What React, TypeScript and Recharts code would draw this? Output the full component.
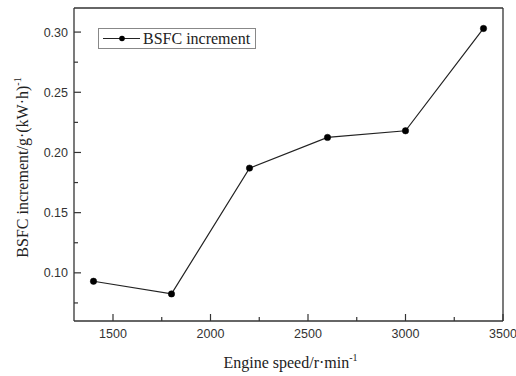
import { Legend, Line, LineChart, ReferenceLine, XAxis, YAxis } from "recharts";

// engine speed (r/min) and the BSFC increment
const speeds = [1400, 1800, 2200, 2600, 3000, 3400];
const bsfcIncrement = [0.093, 0.0825, 0.187, 0.2125, 0.218, 0.303];

const xMajor = [1500, 2000, 2500, 3000, 3500];
const xMinor = [1750, 2250, 2750, 3250];
const yMajor = [0.1, 0.15, 0.2, 0.25, 0.3];
const yMinor = [0.075, 0.125, 0.175, 0.225, 0.275];

const rows = speeds.map((s, i) => ({ speed: s, value: bsfcIncrement[i] }));

const AXIS = "#333";
const SERIF = '"Liberation Serif", "Times New Roman", serif';
const SANS = '"Liberation Sans", Arial, sans-serif';

const isMajor = (list: number[], v: number) => list.some((m) => Math.abs(m - v) < 1e-6);

function YTick(props: any) {
  const { x, y, payload } = props;
  const major = isMajor(yMajor, payload.value);
  return (
    <g>
      <line x1={x} x2={x + (major ? 7 : 4)} y1={y} y2={y} stroke={AXIS} strokeWidth={1.2} />
      {major && (
        <text x={x - 6} y={y + 4.5} textAnchor="end" fontSize={12.5} fontFamily={SANS} fill="#333">
          {payload.value.toFixed(2)}
        </text>
      )}
    </g>
  );
}

function XTick(props: any) {
  const { x, y, payload } = props;
  const major = isMajor(xMajor, payload.value);
  return (
    <g>
      <line x1={x} x2={x} y1={y} y2={y - (major ? 7 : 4)} stroke={AXIS} strokeWidth={1.2} />
      {major && (
        <text x={x} y={y + 17} textAnchor="middle" fontSize={12.5} fontFamily={SANS} fill="#333">
          {payload.value}
        </text>
      )}
    </g>
  );
}

function LegendBox() {
  return (
    <svg width={158} height={21} style={{ display: "block" }}>
      <rect x={0.5} y={0.5} width={157} height={20} fill="#fff" stroke="#888" />
      <line x1={5} x2={42} y1={10.5} y2={10.5} stroke="#222" strokeWidth={1.2} />
      <circle cx={24} cy={10.5} r={2.8} fill="#000" />
      <text x={45} y={16} fontSize={16} fontFamily={SERIF} fill="#222">
        BSFC increment
      </text>
    </svg>
  );
}

export default function App() {
  return (
    <div style={{ position: "absolute", left: 0, top: 0, width: 516, height: 376, background: "#fff" }}>
      <LineChart width={516} height={376} data={rows} margin={{ top: 8, right: 13, bottom: 0, left: 0 }}>
        <XAxis
          dataKey="speed"
          type="number"
          domain={[1300, 3500]}
          ticks={[...xMajor, ...xMinor]}
          interval={0}
          height={55}
          tickSize={0}
          tickMargin={0}
          tickLine={false}
          tick={<XTick />}
          axisLine={{ stroke: AXIS, strokeWidth: 1.3 }}
          label={{
            content: ({ viewBox }: any) => (
              <text
                x={viewBox.x + viewBox.width / 2 + 2}
                y={viewBox.y + 47}
                textAnchor="middle"
                fontSize={16}
                fontFamily={SERIF}
                fill="#222"
              >
                Engine speed/r·min
                <tspan dy={-7} fontSize={10}>-1</tspan>
              </text>
            ),
          }}
        />
        <YAxis
          type="number"
          domain={[0.06, 0.32]}
          ticks={[...yMajor, ...yMinor]}
          interval={0}
          width={74}
          tickSize={0}
          tickMargin={0}
          tickLine={false}
          tick={<YTick />}
          axisLine={{ stroke: AXIS, strokeWidth: 1.3 }}
          label={{
            content: ({ viewBox }: any) => {
              const cx = 28;
              const cy = viewBox.y + viewBox.height / 2 + 3;
              return (
                <text
                  x={cx}
                  y={cy}
                  transform={`rotate(-90 ${cx} ${cy})`}
                  textAnchor="middle"
                  fontSize={16}
                  fontFamily={SERIF}
                  fill="#222"
                >
                  BSFC increment/g·(kW·h)
                  <tspan dy={-7} fontSize={10}>-1</tspan>
                </text>
              );
            },
          }}
        />
        {/* closing frame: top and right edges */}
        <ReferenceLine y={0.32} stroke={AXIS} strokeWidth={1.3} />
        <ReferenceLine x={3500} stroke={AXIS} strokeWidth={1.3} />
        <Legend
          layout="horizontal"
          verticalAlign="middle"
          content={() => <LegendBox />}
          wrapperStyle={{ position: "absolute", left: 98, top: 28, width: "auto" }}
        />
        <Line
          type="linear"
          dataKey="value"
          name="BSFC increment"
          stroke="#222"
          strokeWidth={1.2}
          dot={{ r: 3.2, fill: "#000", stroke: "#000", strokeWidth: 0.5 }}
          isAnimationActive={false}
        />
      </LineChart>
    </div>
  );
}
